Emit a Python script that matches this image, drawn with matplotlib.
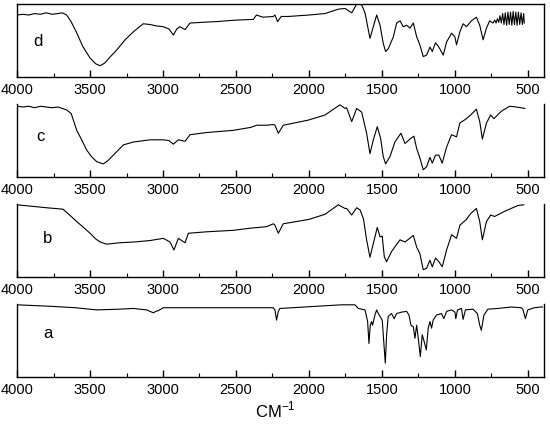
import matplotlib
matplotlib.use("Agg")
import matplotlib.pyplot as plt
from matplotlib.ticker import MultipleLocator

plt.rcParams['font.family'] = ['Liberation Sans', 'DejaVu Sans']
plt.rcParams['mathtext.fontset'] = 'custom'
plt.rcParams['mathtext.rm'] = 'Liberation Sans'

# spectrum d
wn_d = [4000, 3960, 3920, 3880, 3840, 3800, 3760, 3720, 3690, 3660, 3630, 3590, 3550, 3500,
        3460, 3431, 3400, 3360, 3317, 3260, 3203, 3135, 3090, 3043, 2998, 2960, 2929, 2905,
        2884, 2849, 2815, 2730, 2632, 2500, 2381, 2360, 2315, 2244, 2233, 2215, 2190, 2142,
        2000, 1890, 1800, 1753, 1707, 1673, 1639, 1616, 1582, 1559, 1536, 1513, 1491, 1475,
        1456, 1422, 1399, 1376, 1354, 1331, 1308, 1285, 1262, 1240, 1217, 1194, 1171, 1155,
        1133, 1110, 1080, 1057, 1023, 1000, 989, 966, 944, 921, 887, 853, 830, 807, 784, 762,
        739, 727, 718, 709, 700, 691, 682, 673, 664, 655, 646, 637, 628, 619, 610, 601, 592,
        583, 574, 565, 556, 547, 538, 529, 525]
tr_d = [0.85, 0.86, 0.85, 0.87, 0.86, 0.88, 0.86, 0.87, 0.88, 0.85, 0.76, 0.60, 0.42, 0.26,
        0.18, 0.155, 0.19, 0.28, 0.37, 0.51, 0.62, 0.73, 0.72, 0.70, 0.69, 0.66, 0.575, 0.66,
        0.69, 0.65, 0.74, 0.75, 0.76, 0.78, 0.79, 0.85, 0.82, 0.83, 0.85, 0.76, 0.83, 0.83,
        0.85, 0.87, 0.93, 0.94, 0.88, 1.0, 0.99, 0.88, 0.53, 0.69, 0.85, 0.71, 0.46, 0.35,
        0.39, 0.55, 0.74, 0.77, 0.69, 0.71, 0.67, 0.74, 0.55, 0.44, 0.28, 0.30, 0.41, 0.35,
        0.47, 0.41, 0.30, 0.48, 0.60, 0.55, 0.44, 0.62, 0.73, 0.69, 0.77, 0.82, 0.71, 0.51,
        0.67, 0.77, 0.74, 0.78, 0.74, 0.80, 0.75, 0.84, 0.74, 0.87, 0.72, 0.88, 0.71, 0.89,
        0.72, 0.89, 0.71, 0.90, 0.72, 0.89, 0.71, 0.89, 0.72, 0.88, 0.72, 0.87, 0.74]

# spectrum c
wn_c = [4000, 3960, 3920, 3880, 3840, 3800, 3760, 3720, 3705, 3660, 3629, 3591, 3560, 3523,
        3490, 3454, 3409, 3380, 3340, 3272, 3203, 3089, 2998, 2960, 2929, 2895, 2849, 2815,
        2700, 2518, 2400, 2358, 2290, 2244, 2233, 2210, 2176, 2005, 1890, 1788, 1753, 1742,
        1707, 1673, 1639, 1605, 1582, 1559, 1532, 1509, 1491, 1475, 1445, 1411, 1370, 1342,
        1308, 1281, 1262, 1240, 1217, 1194, 1171, 1155, 1133, 1110, 1087, 1057, 1023, 989,
        966, 921, 887, 853, 830, 812, 784, 755, 733, 683, 626, 580, 550, 520]
tr_c = [0.97, 0.96, 0.97, 0.95, 0.97, 0.96, 0.95, 0.96, 0.95, 0.92, 0.87, 0.64, 0.52, 0.37,
        0.28, 0.21, 0.18, 0.22, 0.30, 0.44, 0.48, 0.51, 0.51, 0.50, 0.45, 0.51, 0.49, 0.58,
        0.61, 0.64, 0.68, 0.71, 0.71, 0.72, 0.71, 0.60, 0.71, 0.78, 0.85, 0.99, 0.94, 0.95,
        0.76, 0.94, 0.89, 0.60, 0.32, 0.51, 0.69, 0.53, 0.28, 0.18, 0.28, 0.48, 0.60, 0.46,
        0.52, 0.56, 0.39, 0.26, 0.10, 0.14, 0.27, 0.19, 0.30, 0.30, 0.19, 0.41, 0.58, 0.55,
        0.74, 0.80, 0.86, 0.93, 0.76, 0.52, 0.74, 0.85, 0.80, 0.90, 0.97, 0.96, 0.95, 0.94]

# spectrum b
wn_b = [4000, 3900, 3800, 3685, 3640, 3591, 3550, 3500, 3460, 3431, 3386, 3295, 3200, 3089,
        2998, 2952, 2925, 2895, 2849, 2826, 2700, 2518, 2400, 2290, 2244, 2233, 2210, 2176,
        2000, 1890, 1799, 1753, 1742, 1707, 1673, 1650, 1627, 1605, 1582, 1559, 1532, 1513,
        1498, 1484, 1468, 1434, 1376, 1342, 1285, 1262, 1240, 1217, 1194, 1171, 1155, 1133,
        1110, 1087, 1057, 1023, 989, 966, 921, 892, 853, 830, 812, 784, 755, 728, 660, 569, 528]
tr_b = [0.99, 0.97, 0.95, 0.93, 0.85, 0.76, 0.69, 0.60, 0.52, 0.48, 0.45, 0.47, 0.48, 0.50,
        0.53, 0.48, 0.37, 0.53, 0.47, 0.60, 0.62, 0.64, 0.67, 0.69, 0.73, 0.71, 0.60, 0.73,
        0.79, 0.86, 0.99, 0.94, 0.94, 0.85, 0.95, 0.92, 0.80, 0.51, 0.27, 0.46, 0.68, 0.55,
        0.56, 0.28, 0.21, 0.35, 0.51, 0.48, 0.57, 0.41, 0.32, 0.10, 0.12, 0.23, 0.14, 0.26,
        0.21, 0.14, 0.37, 0.58, 0.53, 0.71, 0.79, 0.87, 0.94, 0.76, 0.51, 0.76, 0.85, 0.83,
        0.90, 0.98, 0.99]

# spectrum a
wn_a = [4000, 3774, 3600, 3454, 3300, 3203, 3112, 3066, 3050, 3032, 2998, 2600, 2290, 2244,
        2233, 2222, 2210, 2199, 1776, 1685, 1662, 1616, 1598, 1589, 1580, 1571, 1564, 1548,
        1536, 1525, 1513, 1498, 1486, 1477, 1468, 1457, 1434, 1416, 1400, 1365, 1331, 1315,
        1301, 1285, 1274, 1262, 1251, 1237, 1224, 1210, 1196, 1183, 1171, 1160, 1149, 1126,
        1092, 1076, 1057, 1023, 1000, 994, 982, 955, 944, 928, 876, 846, 830, 819, 801, 774,
        705, 614, 545, 535, 517, 501, 455, 410, 400]
tr_a = [0.99, 0.97, 0.95, 0.92, 0.93, 0.94, 0.92, 0.88, 0.90, 0.91, 0.95, 0.95, 0.95, 0.95,
        0.92, 0.78, 0.90, 0.94, 0.99, 0.99, 0.94, 0.92, 0.76, 0.46, 0.71, 0.76, 0.71, 0.85,
        0.92, 0.87, 0.83, 0.78, 0.44, 0.19, 0.58, 0.83, 0.87, 0.80, 0.87, 0.89, 0.90, 0.85,
        0.71, 0.69, 0.53, 0.71, 0.53, 0.28, 0.58, 0.48, 0.37, 0.67, 0.76, 0.67, 0.78, 0.85,
        0.87, 0.80, 0.90, 0.92, 0.89, 0.80, 0.92, 0.94, 0.79, 0.92, 0.93, 0.87, 0.71, 0.64,
        0.85, 0.93, 0.94, 0.96, 0.95, 0.93, 0.80, 0.92, 0.95, 0.96, 0.96]

spectra = [('d', wn_d, tr_d, (0.040, 0.48)),
           ('c', wn_c, tr_c, (0.044, 0.56)),
           ('b', wn_b, tr_b, (0.057, 0.53)),
           ('a', wn_a, tr_a, (0.059, 0.60))]

fig = plt.figure(figsize=(5.5, 4.29), dpi=100)
bottoms = [0.8205, 0.5874, 0.3543, 0.1212]

for i, (name, wn, tr, lpos) in enumerate(spectra):
    ax = fig.add_axes([0.031, bottoms[i], 0.958, 0.170])
    ax.plot(wn, tr, color='black', lw=0.8)
    ax.set_xlim(4000, 390)
    ax.set_ylim(0, 1.0)
    ax.xaxis.set_major_locator(MultipleLocator(500))
    ax.xaxis.set_minor_locator(MultipleLocator(250))
    ax.tick_params(axis='x', which='major', direction='in', length=5, width=1,
                   labelsize=10.5, pad=4)
    ax.tick_params(axis='x', which='minor', direction='in', length=3, width=0.8)
    ax.set_yticks([])
    for s in ax.spines.values():
        s.set_linewidth(1.0)
    if name != 'd':
        ax.spines['top'].set_visible(False)
    ax.text(lpos[0], lpos[1], name, transform=ax.transAxes, fontsize=12,
            ha='center', va='center')

fig.text(0.5, 0.045, r'CM$^{\mathregular{-1}}$', ha='center', va='center', fontsize=12)

fig.savefig('out.png', dpi=100)
